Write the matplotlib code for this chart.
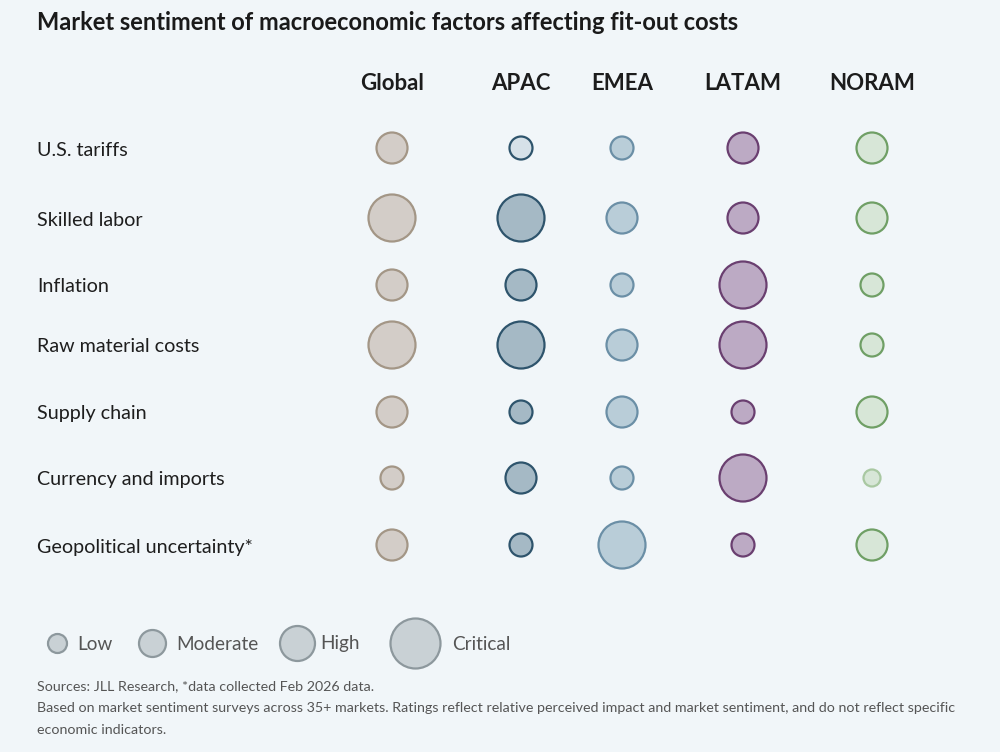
import numpy as np
import matplotlib.pyplot as plt

plt.rcParams['font.family'] = ['Lato', 'DejaVu Sans']

# data: sentiment levels 1=Low, 2=Moderate, 3=High, 4=Critical
regions = ['Global', 'APAC', 'EMEA', 'LATAM', 'NORAM']
factors = ['U.S. tariffs', 'Skilled labor', 'Inflation', 'Raw material costs',
           'Supply chain', 'Currency and imports', 'Geopolitical uncertainty*']
global_lvl = [3, 4, 3, 4, 3, 2, 3]
apac_lvl = [2, 4, 3, 4, 2, 3, 2]
emea_lvl = [2, 3, 2, 3, 3, 2, 4]
latam_lvl = [3, 3, 4, 4, 2, 4, 2]
noram_lvl = [3, 3, 2, 2, 3, 1, 3]
levels = ['Low', 'Moderate', 'High', 'Critical']

title = 'Market sentiment of macroeconomic factors affecting fit-out costs'
note1 = 'Sources: JLL Research, *data collected Feb 2026 data.'
note2 = ('Based on market sentiment surveys across 35+ markets. Ratings reflect relative '
         'perceived impact and market sentiment, and do not reflect specific')
note3 = 'economic indicators.'

# layout (pixels)
bg = '#f1f6f9'
col_x = [392, 521, 622, 743, 872]
row_y = [148, 218, 285, 345, 412, 478, 545]
diam = {1: 17, 2: 23, 3: 31, 4: 47}          # bubble diameter px
leg_diam = {1: 19, 2: 27, 3: 35, 4: 50}
face = ['#d3cdc8', '#a5b9c5', '#b9cdd8', '#bcaac4', '#d7e6d7']
edge = ['#a39686', '#2e546c', '#6b8fa6', '#6a3f70', '#6f9f65']

fig = plt.figure(figsize=(10, 7.52), dpi=100, facecolor=bg)
ax = fig.add_axes([0, 0, 1, 1])
ax.set_facecolor(bg)
ax.set_xlim(0, 1000)
ax.set_ylim(752, 0)
ax.axis('off')

def s_of(d):
    return (d * 0.72) ** 2

ax.text(37, 22, title, fontsize=17, fontweight='bold', color='#1a1a1a', va='center')

for i, r in enumerate(regions):
    ax.text(col_x[i], 83, r, fontsize=16, fontweight='bold', color='#1c1c1c',
            ha='center', va='center')

for j, f in enumerate(factors):
    ax.text(37, row_y[j] + 2, f, fontsize=14.2, color='#1e1e1e', va='center')

all_lvl = [global_lvl, apac_lvl, emea_lvl, latam_lvl, noram_lvl]
for i, lv in enumerate(all_lvl):
    sizes = [s_of(diam[v]) for v in lv]
    fc = [face[i]] * len(lv)
    if i == 1:
        fc = ['#d6e1e8' if v == 2 and k == 0 else face[i] for k, v in enumerate(lv)]
    ec = ['#a9c8a2' if (i == 4 and v == 1) else edge[i] for v in lv]
    ax.scatter([col_x[i]] * len(lv), row_y, s=sizes, c=fc, edgecolors=ec,
               linewidths=1.6, zorder=3)

# legend
leg_x = [57, 152, 297, 415]
txt_x = [77, 176, 320, 452]
for k, name in enumerate(levels):
    ax.scatter(leg_x[k], 643, s=s_of(leg_diam[k + 1]), c='#c9d1d5',
               edgecolors='#8d989d', linewidths=1.6, zorder=3)
    ax.text(txt_x[k], 644, name, fontsize=13.7, color='#555555', va='center')

ax.text(37, 686, note1, fontsize=10.3, color='#555555', va='center')
ax.text(37, 708, note2, fontsize=10.3, color='#555555', va='center')
ax.text(37, 730, note3, fontsize=10.3, color='#555555', va='center')

fig.savefig('out.png', dpi=100, facecolor=bg)
